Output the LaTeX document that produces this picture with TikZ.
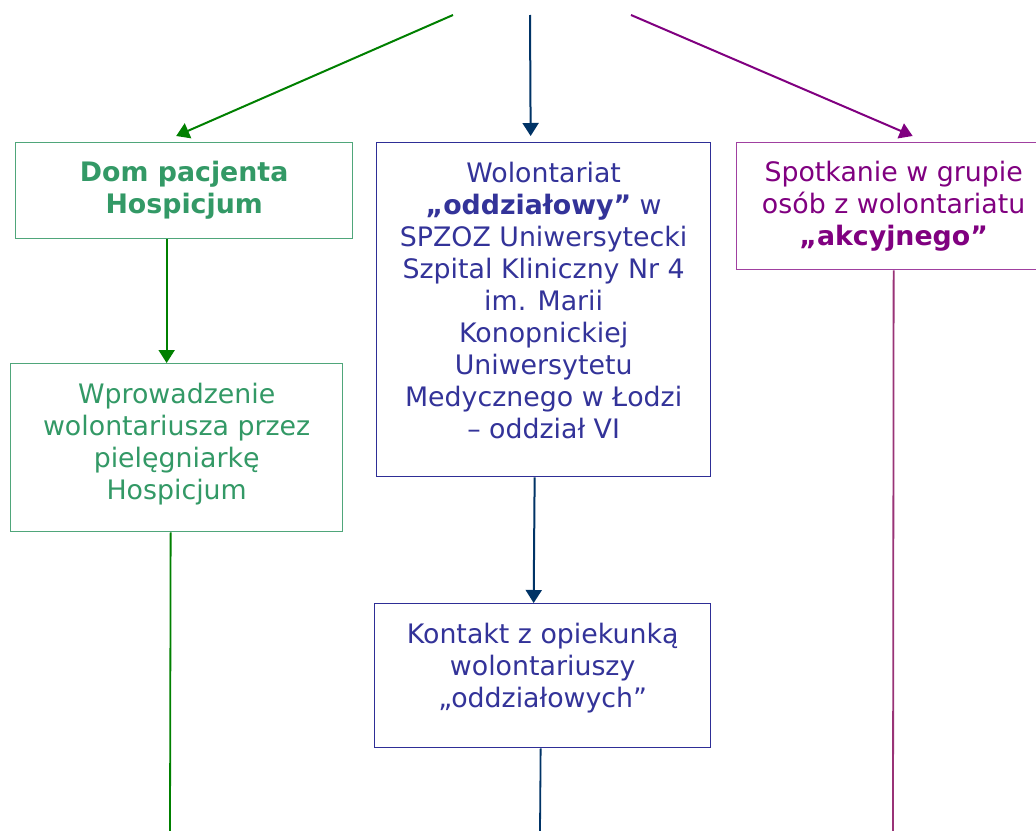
\documentclass[tikz,border=0pt]{standalone}
\usepackage{fontspec}
\setmainfont{DejaVu Sans}
\usetikzlibrary{arrows.meta}
\definecolor{gtext}{HTML}{339966}
\definecolor{gborder}{HTML}{4FA67A}
\definecolor{garrow}{HTML}{008000}
\definecolor{btext}{HTML}{333399}
\definecolor{bborder}{HTML}{2E2E96}
\definecolor{barrow}{HTML}{003366}
\definecolor{ptext}{HTML}{800080}
\definecolor{pborder}{HTML}{A040A0}
\definecolor{parrow}{HTML}{800080}
\definecolor{pline}{HTML}{993377}
\begin{document}
\begin{tikzpicture}[x=1pt,y=-1pt,
  font=\fontsize{26.8}{32}\selectfont,
  box/.style={draw, line width=1.3pt, rectangle, inner sep=0pt, align=center, anchor=north west},
  gbox/.style={box, draw=gborder, text=gtext},
  bbox/.style={box, draw=bborder, text=btext},
  pbox/.style={box, draw=pborder, text=ptext},
  arr/.style={line width=2pt, -{Triangle[width=16pt,length=13pt]}},
  conn/.style={line width=1.8pt}]
\clip (0,0) rectangle (1036,830);
\fill[white] (0,0) rectangle (1036,830);

\node[gbox, minimum width=337pt, minimum height=96pt] (dom) at (15,142) {\textbf{Dom pacjenta}\\\textbf{Hospicjum}};
\node[gbox, minimum width=332pt, minimum height=168pt, text depth=13pt] (wpr) at (10,363) {Wprowadzenie\\wolontariusza przez\\pielęgniarkę\\Hospicjum};
\node[bbox, minimum width=334pt, minimum height=334pt, text depth=18pt] (wol) at (376,142) {Wolontariat\\\textbf{„oddziałowy”} w\\SPZOZ Uniwersytecki\\Szpital Kliniczny Nr 4\\im. Marii\\Konopnickiej\\Uniwersytetu\\Medycznego w Łodzi\\– oddział VI};
\node[bbox, minimum width=336pt, minimum height=144pt, text depth=20pt] (kon) at (374,603) {Kontakt z opiekunką\\wolontariuszy\\„oddziałowych”};
\node[pbox, minimum width=314pt, minimum height=127pt] (spo) at (736,142) {Spotkanie w grupie\\osób z wolontariatu\\\textbf{„akcyjnego”}};

\coordinate (sg) at (453,15);
\coordinate (sb) at (530,15);
\coordinate (sp) at (631,15);
\coordinate (eg) at (170,831);
\coordinate (eb) at (540,831);
\coordinate (ep) at (893,831);

\draw[arr, garrow] (sg) -- ([xshift=-8pt,yshift=6pt]dom.north);
\draw[arr, barrow] (sb) -- ([xshift=-13pt,yshift=6pt]wol.north);
\draw[arr, parrow] (sp) -- ([xshift=19pt,yshift=6pt]spo.north);
\draw[arr, garrow] ([xshift=-17.5pt]dom.south) -- ([xshift=-10pt]wpr.north);
\draw[arr, barrow] ([xshift=-9pt]wol.south) -- ([xshift=-9pt]kon.north);
\draw[conn, garrow] ([xshift=-6pt]wpr.south) -- (eg);
\draw[conn, barrow] ([xshift=-2pt]kon.south) -- (eb);
\draw[conn, pline] (spo.south) -- (ep);
\end{tikzpicture}
\end{document}
